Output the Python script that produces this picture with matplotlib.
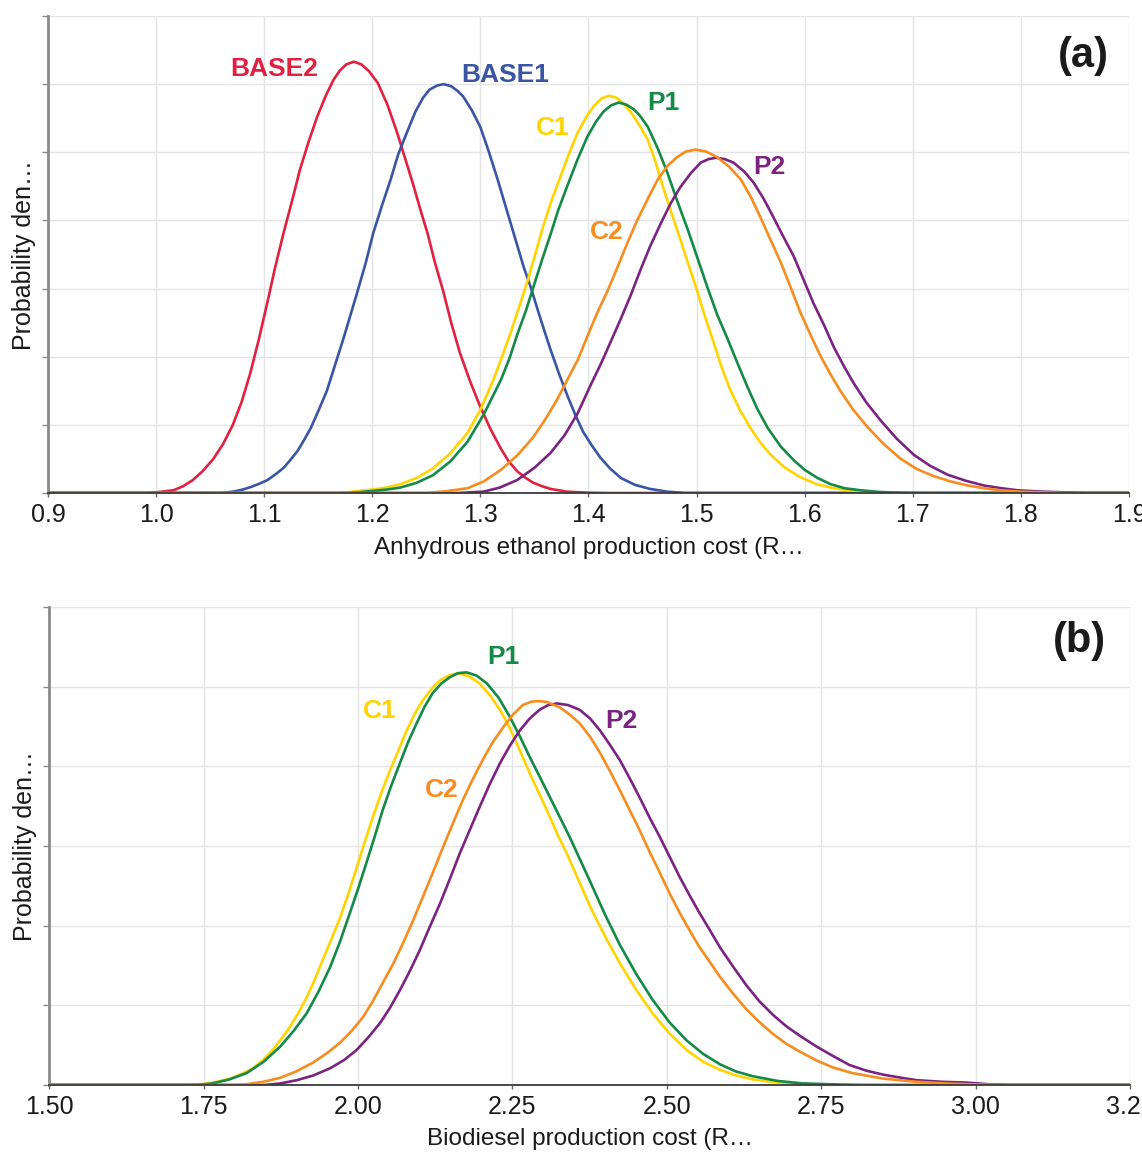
import matplotlib
matplotlib.use('Agg')
import matplotlib.pyplot as plt

plt.rcParams['font.family'] = ['Liberation Sans Narrow', 'Liberation Sans', 'DejaVu Sans']

# ---------------- panel (a): anhydrous ethanol production cost ----------------
a_base2_x = [0.90, 0.99, 1.000, 1.016, 1.025, 1.034, 1.043, 1.053, 1.062, 1.071, 1.079, 1.087, 1.095,
             1.103, 1.110, 1.118, 1.126, 1.133, 1.141, 1.149, 1.157, 1.164, 1.170, 1.176, 1.183, 1.190,
             1.197, 1.205, 1.214, 1.223, 1.230, 1.238, 1.245, 1.251, 1.258, 1.266, 1.273, 1.281, 1.290,
             1.299, 1.309, 1.319, 1.326, 1.334, 1.342, 1.349, 1.357, 1.365, 1.380, 1.40, 1.42, 1.90]
a_base2_y = [0, 0, 0.01, 0.04, 0.10, 0.19, 0.32, 0.50, 0.72, 1.00, 1.33, 1.75, 2.25,
             2.80, 3.30, 3.82, 4.30, 4.74, 5.15, 5.52, 5.83, 6.06, 6.20, 6.29, 6.33, 6.29,
             6.19, 6.02, 5.70, 5.29, 4.93, 4.52, 4.13, 3.82, 3.38, 2.94, 2.50, 2.06, 1.66,
             1.30, 0.95, 0.65, 0.47, 0.32, 0.22, 0.15, 0.10, 0.06, 0.02, 0.005, 0, 0]

a_base1_x = [0.90, 1.06, 1.071, 1.080, 1.088, 1.096, 1.103, 1.111, 1.118, 1.124, 1.131, 1.137, 1.143,
             1.150, 1.158, 1.165, 1.173, 1.180, 1.186, 1.194, 1.201, 1.209, 1.217, 1.224, 1.232, 1.240,
             1.247, 1.253, 1.260, 1.266, 1.273, 1.279, 1.284, 1.292, 1.300, 1.308, 1.316, 1.322, 1.328,
             1.334, 1.340, 1.347, 1.353, 1.359, 1.365, 1.373, 1.381, 1.388, 1.395, 1.403, 1.411, 1.420,
             1.430, 1.443, 1.457, 1.473, 1.49, 1.90]
a_base1_y = [0, 0, 0.02, 0.05, 0.09, 0.14, 0.19, 0.28, 0.37, 0.48, 0.62, 0.78, 0.95,
             1.20, 1.50, 1.85, 2.25, 2.62, 2.94, 3.38, 3.82, 4.22, 4.60, 4.97, 5.29, 5.60,
             5.80, 5.92, 5.98, 6.00, 5.97, 5.90, 5.82, 5.62, 5.37, 5.00, 4.60, 4.28, 3.96,
             3.64, 3.32, 3.00, 2.69, 2.39, 2.10, 1.74, 1.41, 1.14, 0.90, 0.70, 0.52, 0.36,
             0.22, 0.12, 0.06, 0.02, 0, 0]

a_c1_x = [0.90, 1.17, 1.20, 1.213, 1.226, 1.241, 1.256, 1.272, 1.288, 1.300, 1.312, 1.320, 1.328,
          1.336, 1.344, 1.351, 1.358, 1.366, 1.374, 1.382, 1.390, 1.398, 1.405, 1.412, 1.419, 1.426,
          1.433, 1.440, 1.447, 1.455, 1.462, 1.469, 1.477, 1.485, 1.493, 1.501, 1.508, 1.516, 1.523,
          1.531, 1.540, 1.550, 1.559, 1.568, 1.581, 1.595, 1.611, 1.627, 1.643, 1.66, 1.68, 1.70, 1.90]
a_c1_y = [0, 0, 0.05, 0.08, 0.13, 0.22, 0.36, 0.58, 0.88, 1.22, 1.66, 2.00, 2.35,
          2.74, 3.13, 3.52, 3.91, 4.30, 4.64, 4.98, 5.29, 5.52, 5.68, 5.79, 5.83, 5.80,
          5.71, 5.57, 5.40, 5.18, 4.86, 4.49, 4.10, 3.72, 3.33, 2.94, 2.58, 2.20, 1.85,
          1.52, 1.22, 0.95, 0.74, 0.57, 0.38, 0.24, 0.13, 0.07, 0.035, 0.015, 0.005, 0, 0]

a_p1_x = [0.90, 1.18, 1.20, 1.213, 1.226, 1.241, 1.256, 1.272, 1.288, 1.303, 1.319, 1.327, 1.334,
          1.342, 1.349, 1.357, 1.365, 1.372, 1.380, 1.390, 1.399, 1.407, 1.414, 1.421, 1.428, 1.435,
          1.442, 1.448, 1.455, 1.464, 1.473, 1.482, 1.492, 1.501, 1.510, 1.519, 1.529, 1.538, 1.547,
          1.556, 1.566, 1.578, 1.590, 1.600, 1.612, 1.624, 1.637, 1.652, 1.67, 1.69, 1.71, 1.90]
a_p1_y = [0, 0, 0.03, 0.05, 0.08, 0.15, 0.26, 0.46, 0.75, 1.15, 1.66, 1.98, 2.32,
          2.67, 3.02, 3.42, 3.80, 4.15, 4.49, 4.90, 5.23, 5.45, 5.60, 5.69, 5.73, 5.70,
          5.63, 5.53, 5.37, 5.06, 4.70, 4.29, 3.86, 3.44, 3.02, 2.62, 2.25, 1.90, 1.56,
          1.24, 0.95, 0.68, 0.48, 0.34, 0.22, 0.13, 0.07, 0.04, 0.015, 0.005, 0, 0]

a_c2_x = [0.90, 1.25, 1.27, 1.288, 1.303, 1.319, 1.334, 1.349, 1.360, 1.371, 1.380, 1.390, 1.399,
          1.408, 1.418, 1.427, 1.436, 1.445, 1.455, 1.464, 1.473, 1.482, 1.490, 1.499, 1.509, 1.519,
          1.530, 1.541, 1.550, 1.559, 1.568, 1.578, 1.587, 1.596, 1.606, 1.615, 1.624, 1.633, 1.645,
          1.658, 1.673, 1.689, 1.704, 1.719, 1.735, 1.751, 1.766, 1.781, 1.80, 1.83, 1.85, 1.90]
a_c2_y = [0, 0, 0.03, 0.07, 0.17, 0.34, 0.55, 0.82, 1.08, 1.37, 1.65, 1.95, 2.30,
          2.64, 2.98, 3.32, 3.67, 4.00, 4.32, 4.60, 4.80, 4.93, 5.01, 5.04, 5.01, 4.93,
          4.79, 4.60, 4.35, 4.05, 3.73, 3.38, 3.02, 2.65, 2.30, 2.00, 1.74, 1.50, 1.22,
          0.97, 0.72, 0.50, 0.35, 0.25, 0.17, 0.11, 0.07, 0.04, 0.02, 0.005, 0, 0]

a_p2_x = [0.90, 1.28, 1.29, 1.303, 1.318, 1.334, 1.350, 1.365, 1.378, 1.390, 1.401, 1.411, 1.420,
          1.430, 1.439, 1.448, 1.457, 1.467, 1.476, 1.485, 1.495, 1.504, 1.511, 1.518, 1.526, 1.534,
          1.544, 1.553, 1.562, 1.571, 1.580, 1.590, 1.599, 1.608, 1.618, 1.627, 1.636, 1.645, 1.657,
          1.670, 1.685, 1.701, 1.716, 1.732, 1.749, 1.766, 1.782, 1.797, 1.82, 1.84, 1.86, 1.90]
a_p2_y = [0, 0, 0.01, 0.02, 0.08, 0.19, 0.37, 0.59, 0.85, 1.17, 1.55, 1.88, 2.20,
          2.56, 2.90, 3.27, 3.62, 3.96, 4.25, 4.49, 4.70, 4.85, 4.90, 4.92, 4.90, 4.85,
          4.72, 4.55, 4.32, 4.05, 3.77, 3.47, 3.13, 2.79, 2.46, 2.14, 1.87, 1.62, 1.33,
          1.07, 0.80, 0.56, 0.40, 0.27, 0.18, 0.11, 0.07, 0.04, 0.02, 0.01, 0, 0]

a_xticks = [0.9, 1.0, 1.1, 1.2, 1.3, 1.4, 1.5, 1.6, 1.7, 1.8, 1.9]

# ---------------- panel (b): biodiesel production cost ----------------
b_c1_x = [1.50, 1.72, 1.749, 1.772, 1.793, 1.812, 1.830, 1.846, 1.862, 1.876, 1.890, 1.904, 1.917,
          1.930, 1.943, 1.957, 1.971, 1.985, 1.998, 2.011, 2.024, 2.038, 2.052, 2.066, 2.079, 2.092,
          2.105, 2.119, 2.133, 2.147, 2.162, 2.180, 2.197, 2.214, 2.230, 2.244, 2.257, 2.270, 2.283,
          2.297, 2.311, 2.324, 2.338, 2.351, 2.364, 2.376, 2.388, 2.406, 2.424, 2.450, 2.477, 2.504,
          2.532, 2.559, 2.586, 2.612, 2.639, 2.68, 2.72, 2.80, 3.25]
b_c1_y = [0, 0, 0.01, 0.04, 0.08, 0.14, 0.21, 0.31, 0.44, 0.58, 0.73, 0.91, 1.10,
          1.32, 1.57, 1.83, 2.10, 2.41, 2.73, 3.05, 3.36, 3.67, 3.95, 4.21, 4.45, 4.66,
          4.83, 4.97, 5.08, 5.14, 5.17, 5.13, 5.04, 4.89, 4.71, 4.51, 4.29, 4.06, 3.83,
          3.60, 3.36, 3.13, 2.91, 2.68, 2.45, 2.24, 2.05, 1.78, 1.53, 1.20, 0.90, 0.65,
          0.44, 0.29, 0.19, 0.12, 0.07, 0.03, 0.01, 0, 0]

b_p1_x = [1.50, 1.74, 1.765, 1.792, 1.820, 1.847, 1.874, 1.896, 1.917, 1.936, 1.955, 1.971, 1.987,
          2.001, 2.015, 2.028, 2.040, 2.054, 2.068, 2.081, 2.095, 2.108, 2.121, 2.135, 2.149, 2.162,
          2.176, 2.192, 2.209, 2.228, 2.246, 2.262, 2.278, 2.295, 2.311, 2.327, 2.343, 2.359, 2.375,
          2.400, 2.424, 2.450, 2.477, 2.504, 2.532, 2.559, 2.586, 2.612, 2.639, 2.68, 2.72, 2.78,
          2.82, 3.25]
b_p1_y = [0, 0, 0.02, 0.07, 0.15, 0.29, 0.48, 0.68, 0.90, 1.17, 1.48, 1.80, 2.16,
          2.48, 2.82, 3.14, 3.45, 3.76, 4.04, 4.30, 4.54, 4.75, 4.92, 5.04, 5.12, 5.17,
          5.18, 5.14, 5.04, 4.86, 4.62, 4.38, 4.12, 3.86, 3.61, 3.36, 3.11, 2.84, 2.57,
          2.14, 1.76, 1.40, 1.07, 0.79, 0.56, 0.39, 0.26, 0.17, 0.11, 0.05, 0.02, 0.005,
          0, 0]

b_c2_x = [1.50, 1.80, 1.820, 1.847, 1.874, 1.900, 1.927, 1.950, 1.971, 1.990, 2.008, 2.024, 2.040,
          2.057, 2.073, 2.089, 2.105, 2.122, 2.138, 2.154, 2.170, 2.186, 2.202, 2.218, 2.235, 2.251,
          2.267, 2.280, 2.291, 2.305, 2.327, 2.343, 2.359, 2.376, 2.392, 2.408, 2.424, 2.440, 2.456,
          2.472, 2.489, 2.505, 2.521, 2.537, 2.553, 2.570, 2.586, 2.607, 2.629, 2.650, 2.672, 2.693,
          2.715, 2.742, 2.769, 2.80, 2.85, 2.905, 2.95, 2.985, 3.05, 3.25]
b_c2_y = [0, 0, 0.01, 0.04, 0.09, 0.17, 0.28, 0.40, 0.53, 0.68, 0.85, 1.05, 1.28,
          1.52, 1.78, 2.06, 2.36, 2.68, 2.99, 3.29, 3.58, 3.84, 4.08, 4.30, 4.49, 4.65,
          4.77, 4.81, 4.82, 4.81, 4.74, 4.65, 4.54, 4.37, 4.17, 3.94, 3.70, 3.45, 3.20,
          2.93, 2.66, 2.40, 2.16, 1.94, 1.73, 1.54, 1.36, 1.15, 0.95, 0.79, 0.64, 0.52,
          0.42, 0.31, 0.22, 0.15, 0.08, 0.04, 0.02, 0.01, 0, 0]

b_p2_x = [1.50, 1.85, 1.875, 1.901, 1.928, 1.955, 1.977, 1.998, 2.017, 2.036, 2.052, 2.068, 2.084,
          2.100, 2.116, 2.133, 2.149, 2.165, 2.181, 2.197, 2.213, 2.230, 2.246, 2.262, 2.278, 2.294,
          2.308, 2.322, 2.340, 2.359, 2.376, 2.392, 2.408, 2.424, 2.440, 2.456, 2.472, 2.489, 2.505,
          2.521, 2.537, 2.553, 2.570, 2.586, 2.607, 2.629, 2.650, 2.672, 2.693, 2.715, 2.743, 2.770,
          2.796, 2.823, 2.85, 2.88, 2.905, 2.945, 2.985, 3.02, 3.055, 3.25]
b_p2_y = [0, 0, 0.02, 0.06, 0.12, 0.21, 0.31, 0.44, 0.60, 0.78, 0.97, 1.19, 1.43,
          1.69, 1.98, 2.28, 2.59, 2.91, 3.20, 3.49, 3.77, 4.04, 4.26, 4.45, 4.60, 4.71,
          4.77, 4.79, 4.77, 4.71, 4.60, 4.45, 4.27, 4.08, 3.85, 3.61, 3.36, 3.11, 2.86,
          2.61, 2.38, 2.16, 1.94, 1.73, 1.49, 1.25, 1.05, 0.88, 0.74, 0.62, 0.48, 0.36,
          0.25, 0.18, 0.13, 0.09, 0.06, 0.04, 0.03, 0.01, 0, 0]

b_xticks = [1.50, 1.75, 2.00, 2.25, 2.50, 2.75, 3.00, 3.25]

# colours
c_base2 = '#E2203F'
c_base1 = '#3A55A5'
c_c1 = '#FFD400'
c_p1 = '#138A46'
c_c2 = '#F78C1F'
c_p2 = '#7A2381'

fig = plt.figure(figsize=(11.42, 11.53), dpi=100)
ax1 = fig.add_axes([0.042, 0.5724, 0.9466, 0.4137])
ax2 = fig.add_axes([0.043, 0.0590, 0.9465, 0.4145])

lw = 1.9


def style_axis(ax, xticks, fmt, xmin, xmax, ntop, xlabel, lab_y):
    ax.set_xlim(xmin, xmax)
    ax.set_ylim(0, ntop)
    ax.set_xticks(xticks)
    ax.set_xticklabels([fmt.format(t) for t in xticks])
    ax.set_yticks(range(ntop + 1))
    ax.set_yticklabels([])
    ax.grid(True, color='#E4E4E4', linewidth=1.0)
    ax.set_axisbelow(True)
    for s in ['top', 'right']:
        ax.spines[s].set_visible(False)
    ax.spines['left'].set_color('#8A8A8A')
    ax.spines['left'].set_linewidth(2.0)
    ax.spines['bottom'].set_color('#3A3A3A')
    ax.spines['bottom'].set_linewidth(1.3)
    ax.tick_params(axis='x', length=3, width=1, color='#666666', labelsize=18, pad=4, labelcolor='#1a1a1a')
    ax.tick_params(axis='y', length=4, width=1, color='#8A8A8A')
    ax.set_xlabel(xlabel, fontsize=17.5, color='#1a1a1a')
    ax.xaxis.set_label_coords(0.5, lab_y)
    ax.set_ylabel('Probability den…', fontsize=18, color='#1a1a1a')
    ax.yaxis.set_label_coords(-0.011, 0.5)


# panel (a)
ax1.plot(a_base2_x, a_base2_y, color=c_base2, lw=lw)
ax1.plot(a_base1_x, a_base1_y, color=c_base1, lw=lw)
ax1.plot(a_c1_x, a_c1_y, color=c_c1, lw=lw)
ax1.plot(a_p1_x, a_p1_y, color=c_p1, lw=lw)
ax1.plot(a_p2_x, a_p2_y, color=c_p2, lw=lw)
ax1.plot(a_c2_x, a_c2_y, color=c_c2, lw=lw)
style_axis(ax1, a_xticks, '{:.1f}', 0.9, 1.9, 7, 'Anhydrous ethanol production cost (R…', -0.092)

lab = dict(fontsize=19, fontweight='bold', ha='center', va='center')
ax1.text(1.109, 6.22, 'BASE2', color=c_base2, **lab)
ax1.text(1.323, 6.14, 'BASE1', color=c_base1, **lab)
ax1.text(1.367, 5.36, 'C1', color=c_c1, **lab)
ax1.text(1.469, 5.73, 'P1', color=c_p1, **lab)
ax1.text(1.417, 3.83, 'C2', color=c_c2, **lab)
ax1.text(1.567, 4.79, 'P2', color=c_p2, **lab)
ax1.text(1.858, 6.42, '(a)', color='#1a1a1a', fontsize=30, fontweight='bold', ha='center', va='center')

# panel (b)
ax2.plot(b_c1_x, b_c1_y, color=c_c1, lw=lw)
ax2.plot(b_p1_x, b_p1_y, color=c_p1, lw=lw)
ax2.plot(b_p2_x, b_p2_y, color=c_p2, lw=lw)
ax2.plot(b_c2_x, b_c2_y, color=c_c2, lw=lw)
style_axis(ax2, b_xticks, '{:.2f}', 1.5, 3.25, 6, 'Biodiesel production cost (R…', -0.089)

ax2.text(2.235, 5.37, 'P1', color=c_p1, **lab)
ax2.text(2.036, 4.70, 'C1', color=c_c1, **lab)
ax2.text(2.136, 3.70, 'C2', color=c_c2, **lab)
ax2.text(2.427, 4.57, 'P2', color=c_p2, **lab)
ax2.text(3.168, 5.57, '(b)', color='#1a1a1a', fontsize=30, fontweight='bold', ha='center', va='center')

fig.savefig('out.png', dpi=100)
